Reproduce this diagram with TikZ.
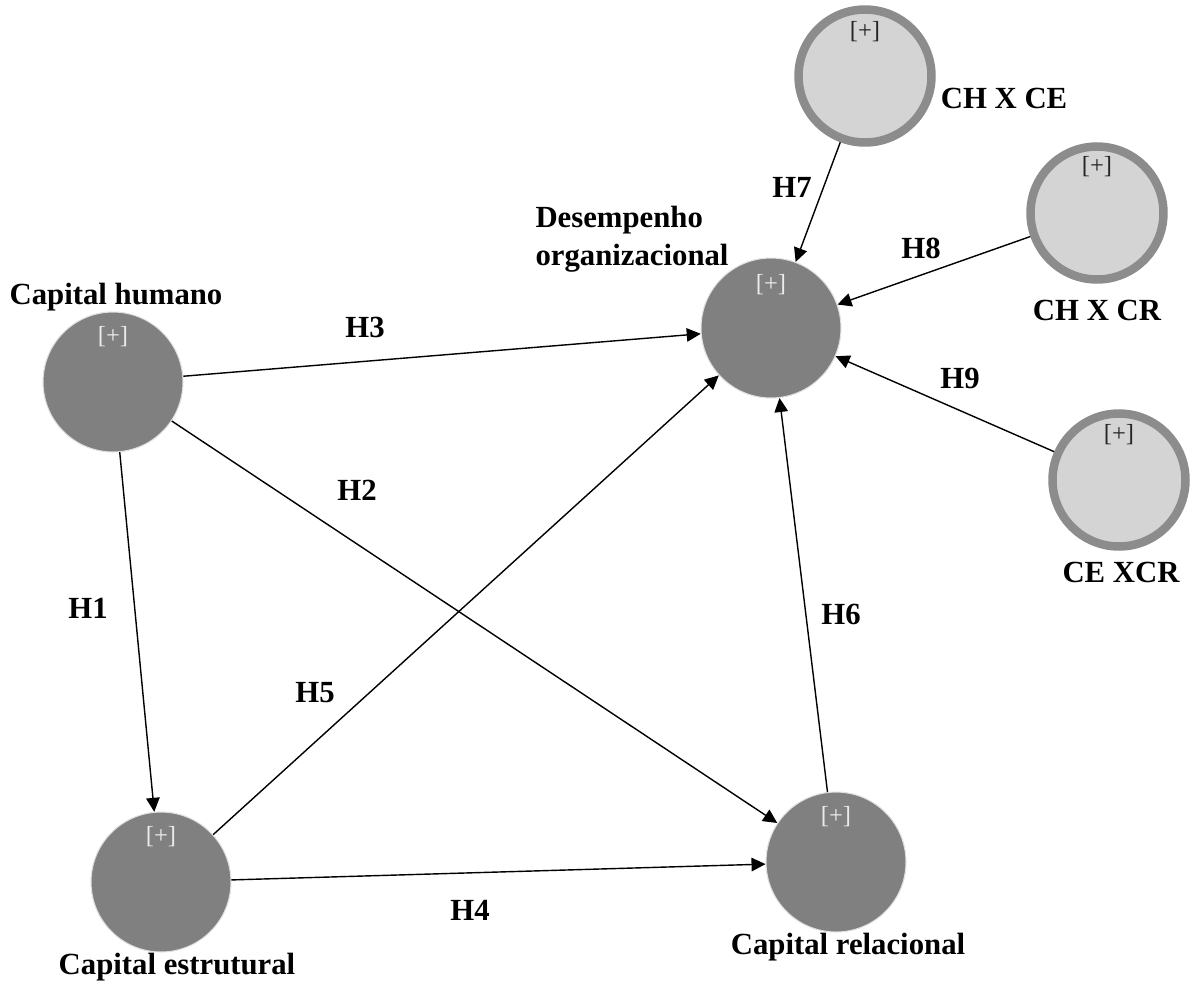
\documentclass[tikz,border=0pt]{standalone}
\usepackage{fontspec}
\setmainfont{Liberation Serif}
\usetikzlibrary{arrows.meta}

\begin{document}
\begin{tikzpicture}[x=0.02cm,y=-0.02cm,
  lv/.style={circle,fill=black!50,draw=black!12,line width=0.6pt,minimum size=2.8cm,inner sep=0pt},
  mod/.style={circle,fill=black!17,draw=black!45,line width=0.17cm,minimum size=2.66cm,inner sep=0pt},
  pluslv/.style={text=black!8,font=\fontsize{14}{16}\selectfont},
  plusmod/.style={text=black!85,font=\fontsize{14}{16}\selectfont},
  lbl/.style={font=\fontsize{17.5}{21.5}\selectfont\bfseries},
  hyp/.style={-{Triangle[length=0.28cm,width=0.27cm]},line width=0.8pt}]
  \useasboundingbox (0,0) rectangle (1193,988);
  \node[lv] (ch) at (113,382) {};
  \node[lv] (ce) at (161,882) {};
  \node[lv] (cr) at (836,862) {};
  \node[lv] (do) at (771,328) {};
  \node[mod] (chce) at (865,76) {};
  \node[mod] (chcr) at (1097,213) {};
  \node[mod] (cecr) at (1119,480) {};
  \node[pluslv] (chp) at ([yshift=0.9cm]ch.center) {[+]};
  \node[pluslv] (cep) at ([yshift=0.9cm]ce.center) {[+]};
  \node[pluslv] (crp) at ([yshift=0.9cm]cr.center) {[+]};
  \node[pluslv] (dop) at ([yshift=0.86cm]do.center) {[+]};
  \node[plusmod] (chcep) at ([yshift=0.88cm]chce.center) {[+]};
  \node[plusmod] (chcrp) at ([yshift=0.92cm]chcr.center) {[+]};
  \node[plusmod] (cecrp) at ([yshift=0.9cm]cecr.center) {[+]};
  \node[lbl] (chl) at (116,297) {Capital humano};
  \node[lbl] (cel) at (177,967) {Capital estrutural};
  \node[lbl] (crl) at (848,947) {Capital relacional};
  \node[lbl,align=left] (dol) at (632,239) {Desempenho\\organizacional};
  \node[lbl] (chcel) at (1004,98) {CH X CE};
  \node[lbl] (chcrl) at (1097,310) {CH X CR};
  \node[lbl] (cecrl) at (1121,572) {CE XCR};
  \draw[hyp] (ch) -- (ce);
  \draw[hyp] (ch) -- (cr);
  \draw[hyp] (ch) -- (do);
  \draw[hyp] (ce) -- (cr);
  \draw[hyp] (ce) -- (do);
  \draw[hyp] (cr) -- (do);
  \draw[hyp] (chce) -- (do);
  \draw[hyp] (chcr) -- (do);
  \draw[hyp] (cecr) -- (do);
  \node[lbl] (h1) at (88,608) {H1};
  \node[lbl] (h2) at (357,490) {H2};
  \node[lbl] (h3) at (365,327) {H3};
  \node[lbl] (h4) at (470,910) {H4};
  \node[lbl] (h5) at (315,693) {H5};
  \node[lbl] (h6) at (841,614) {H6};
  \node[lbl] (h7) at (792,187) {H7};
  \node[lbl] (h8) at (921,248) {H8};
  \node[lbl] (h9) at (960,378) {H9};
\end{tikzpicture}
\end{document}
